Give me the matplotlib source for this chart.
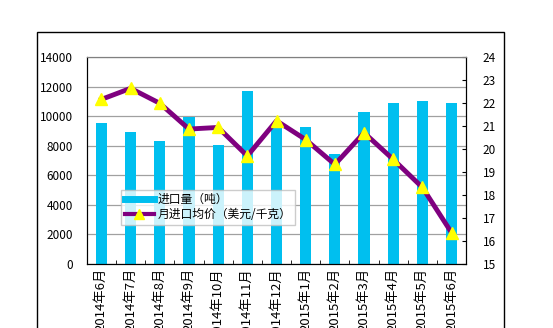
import matplotlib
matplotlib.use("Agg")
import matplotlib.pyplot as plt
from matplotlib.lines import Line2D
from matplotlib.patches import Rectangle

plt.rcParams['font.family'] = ['Noto Sans CJK SC', 'DejaVu Sans']

months = ["2014年6月", "2014年7月", "2014年8月", "2014年9月", "2014年10月",
          "2014年11月", "2014年12月", "2015年1月", "2015年2月", "2015年3月",
          "2015年4月", "2015年5月", "2015年6月"]
volume = [9550, 8920, 8320, 9960, 8030, 11700, 9200, 9240, 7450, 10280,
          10910, 11020, 10910]
price = [22.16, 22.64, 21.99, 20.87, 20.94, 19.70, 21.23, 20.41, 19.33,
         20.71, 19.55, 18.33, 16.36]

bar_color = "#00BFEF"
line_color = "#7F007F"

fig = plt.figure(figsize=(5.53, 3.28), dpi=100)
ax = fig.add_axes([0.157, 0.195, 0.686, 0.631])
x = list(range(len(months)))

ax.bar(x, volume, width=0.38, color=bar_color, zorder=2)
ax.set_xlim(-0.5, len(months) - 0.5)
ax.set_ylim(0, 14000)
ax.set_yticks(range(0, 14001, 2000))
ax.yaxis.grid(True, color="#A0A0A0", linewidth=0.9, zorder=0)
ax.set_axisbelow(True)
ax.set_xticks(x)
ax.set_xticklabels(months, rotation=90, fontsize=9.5)
ax.set_xticks([i + 0.5 for i in x[:-1]], minor=True)
ax.tick_params(axis="x", which="major", length=0, pad=3)
ax.tick_params(axis="x", which="minor", length=3, direction="in")
ax.tick_params(axis="y", length=0, labelsize=8.5, pad=10)
ax.spines["left"].set_color("black")
ax.spines["bottom"].set_color("black")
ax.spines["top"].set_color("#808080")

ax2 = ax.twinx()
ax2.plot(x, price, color=line_color, linewidth=3.5, marker="^",
         markersize=9, markerfacecolor="#FFFF00", markeredgecolor="#FFFF00",
         zorder=3)
ax2.set_ylim(15, 24)
ax2.set_yticks(range(15, 25))
ax2.tick_params(axis="y", length=3, direction="in", labelsize=8.5, pad=12)
ax2.spines["right"].set_color("black")
ax2.spines["top"].set_color("#808080")

handles = [Line2D([], [], color=bar_color, linewidth=5),
           Line2D([], [], color=line_color, linewidth=3, marker="^",
                  markersize=7, markerfacecolor="#FFFF00",
                  markeredgecolor="#FFFF00")]
labels = ["进口量（吨）", "月进口均价（美元/千克）"]
ax2.legend(handles, labels, loc="lower left", bbox_to_anchor=(0.075, 0.16),
           fontsize=8.5, frameon=True, fancybox=False, edgecolor="#C0C0C0",
           handlelength=2.5, borderpad=0.3, labelspacing=0.2,
           handletextpad=0.3)

fig.patches.append(Rectangle((0.067, -0.2), 0.844, 1.102, fill=False,
                             edgecolor="black", linewidth=1,
                             transform=fig.transFigure))

fig.savefig("out.png", dpi=100)
